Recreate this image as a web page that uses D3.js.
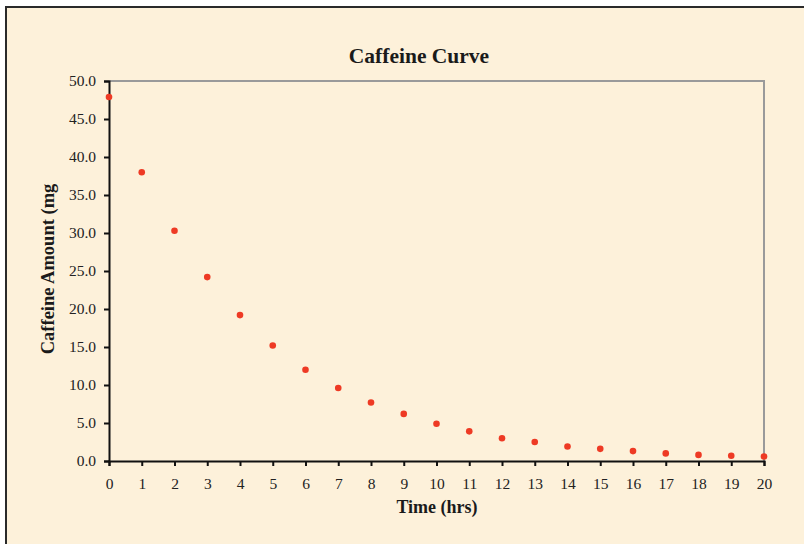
<!DOCTYPE html>
<html>
<head>
<meta charset="utf-8">
<script src="https://cdn.jsdelivr.net/npm/d3@7"></script>
<style>
  body { margin: 0; background: #fff; }
  svg { display: block; }
</style>
</head>
<body>
<div id="chart"></div>
<script>
const hours = [0, 1, 2, 3, 4, 5, 6, 7, 8, 9, 10, 11, 12, 13, 14, 15, 16, 17, 18, 19, 20];
const caffeine = [47.9, 38.0, 30.3, 24.2, 19.2, 15.2, 12.0, 9.6, 7.7, 6.2, 4.9, 3.9, 3.0, 2.5, 1.9, 1.6, 1.3, 1.0, 0.8, 0.7, 0.6];
const yTicks = [0, 5, 10, 15, 20, 25, 30, 35, 40, 45, 50];
const titleText = "Caffeine Curve";
const xTitle = "Time (hrs)";
const yTitle = "Caffeine Amount (mg";

function drawChart() {
    const data = hours.map((h, i) => ({ hour: h, amount: caffeine[i] }));

    const xAccessor = (d) => d.hour;
    const yAccessor = (d) => d.amount;

    let dimensions = {
        width: 804,
        height: 544,
        margin: { top: 81, right: 40, bottom: 83, left: 109 },
    };
    dimensions.boundedWidth = dimensions.width - dimensions.margin.left - dimensions.margin.right;
    dimensions.boundedHeight = dimensions.height - dimensions.margin.top - dimensions.margin.bottom;

    const wrapper = d3.select("#chart")
        .append("svg")
        .attr("width", dimensions.width)
        .attr("height", dimensions.height);

    // chart area background + border
    wrapper.append("rect")
        .attr("x", 6)
        .attr("y", 7)
        .attr("width", dimensions.width + 20)
        .attr("height", dimensions.height + 20)
        .attr("fill", "#fdf1da")
        .attr("stroke", "#2a2a2a")
        .attr("stroke-width", 2);

    const bounds = wrapper.append("g")
        .attr("transform", `translate(${dimensions.margin.left},${dimensions.margin.top})`);

    const xScale = d3.scaleLinear()
        .domain([0, 20])
        .range([0, dimensions.boundedWidth]);

    const yScale = d3.scaleLinear()
        .domain([0, 50])
        .range([dimensions.boundedHeight, 0]);

    // plot frame (top + right in grey)
    bounds.append("path")
        .attr("d", `M0,0H${dimensions.boundedWidth}V${dimensions.boundedHeight}`)
        .attr("fill", "none")
        .attr("stroke", "#9a9a9a")
        .attr("stroke-width", 2);

    const yAxis = bounds.append("g")
        .call(d3.axisLeft(yScale)
            .tickValues(yTicks)
            .tickSize(5)
            .tickPadding(8)
            .tickFormat(d3.format(".1f")));

    const xAxis = bounds.append("g")
        .attr("transform", `translate(0,${dimensions.boundedHeight})`)
        .call(d3.axisBottom(xScale)
            .tickValues(hours)
            .tickSize(5)
            .tickPadding(12));

    [yAxis, xAxis].forEach((ax) => {
        ax.select(".domain").attr("stroke", "#111").attr("stroke-width", 2);
        ax.selectAll(".tick line").attr("stroke", "#111").attr("stroke-width", 2);
        ax.selectAll(".tick text")
            .attr("fill", "#222")
            .style("font-family", "'Liberation Serif', 'DejaVu Serif', serif")
            .style("font-size", "15.5px");
    });

    // draw data
    bounds.selectAll("circle")
        .data(data)
        .join("circle")
        .attr("cx", (d) => xScale(xAccessor(d)))
        .attr("cy", (d) => yScale(yAccessor(d)))
        .attr("r", 3.3)
        .attr("fill", "#ee3a24");

    wrapper.append("text")
        .attr("x", 419)
        .attr("y", 63)
        .attr("text-anchor", "middle")
        .style("font-family", "'Liberation Serif', serif")
        .style("font-weight", "bold")
        .style("font-size", "21.5px")
        .attr("fill", "#1a1a1a")
        .text(titleText);

    wrapper.append("text")
        .attr("x", 437)
        .attr("y", 513)
        .attr("text-anchor", "middle")
        .style("font-family", "'Liberation Serif', serif")
        .style("font-weight", "bold")
        .style("font-size", "18px")
        .attr("fill", "#1a1a1a")
        .text(xTitle);

    wrapper.append("text")
        .attr("transform", "translate(54,269) rotate(-90)")
        .attr("text-anchor", "middle")
        .style("font-family", "'Liberation Serif', serif")
        .style("font-weight", "bold")
        .style("font-size", "18.5px")
        .attr("fill", "#1a1a1a")
        .text(yTitle);
}

drawChart();
</script>
</body>
</html>
